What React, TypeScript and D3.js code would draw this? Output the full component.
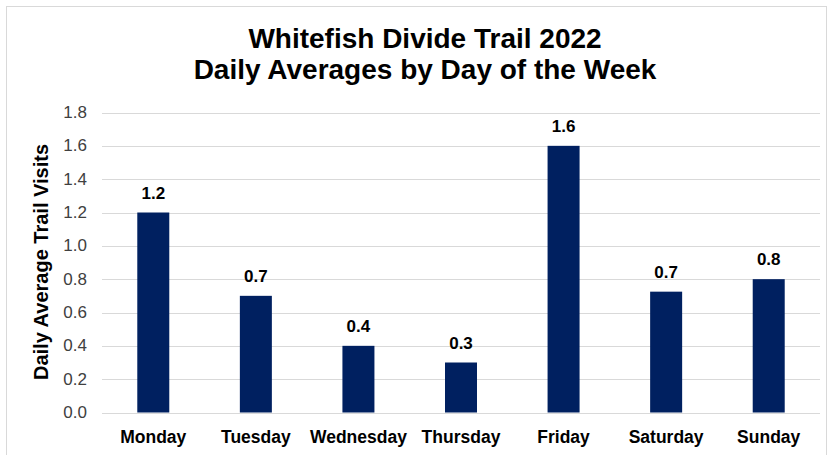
import React from "react";
import * as d3 from "d3";

const days = ["Monday", "Tuesday", "Wednesday", "Thursday", "Friday", "Saturday", "Sunday"];
const visits = [1.2, 0.7, 0.4, 0.3, 1.6, 0.725, 0.8];
const yTicks = [0, 0.2, 0.4, 0.6, 0.8, 1.0, 1.2, 1.4, 1.6, 1.8];
const titleLines = ["Whitefish Divide Trail 2022", "Daily Averages by Day of the Week"];
const yTitle = "Daily Average Trail Visits";

const W = 833;
const H = 455;
const FONT = "Liberation Sans, Arial, Helvetica, sans-serif";

export default function App() {
  const x = d3.scaleBand<string>().domain(days).range([102, 820]).paddingInner(0.688).paddingOuter(0.344);
  const y = d3.scaleLinear().domain([0, 1.8]).range([412.5, 112.5]);

  return (
    <svg width={W} height={H} style={{ position: "absolute", left: 0, top: 0, display: "block", background: "#fff" }} fontFamily={FONT}>
      <rect x={6.5} y={6.5} width={820} height={470} fill="#fff" stroke="#d9d9d9" strokeWidth={1} />
      {titleLines.map((t, i) => (
        <text key={t} x={425} y={48 + i * 31} textAnchor="middle" fontSize={28} fontWeight="bold" fill="#000">
          {t}
        </text>
      ))}
      {yTicks.map((t) => (
        <g key={t}>
          <line x1={102} x2={820} y1={Math.round(y(t)) + 0.5} y2={Math.round(y(t)) + 0.5} stroke="#d9d9d9" strokeWidth={1} />
          <text x={87} y={y(t) + 5.5} textAnchor="end" fontSize={17} fill="#404040">
            {d3.format(".1f")(t)}
          </text>
        </g>
      ))}
      {days.map((d, i) => (
        <g key={d}>
          <rect x={x(d)} y={y(visits[i])} width={x.bandwidth()} height={y(0) - y(visits[i])} fill="#002060" />
          <text x={(x(d) as number) + x.bandwidth() / 2} y={y(visits[i]) - 14} textAnchor="middle" fontSize={17} fontWeight="bold" fill="#000">
            {visits[i].toFixed(1)}
          </text>
          <text x={(x(d) as number) + x.bandwidth() / 2} y={443} textAnchor="middle" fontSize={17.5} fontWeight="bold" fill="#000">
            {d}
          </text>
        </g>
      ))}
      <text transform={`translate(47.5,262) rotate(-90)`} textAnchor="middle" fontSize={20} fontWeight="bold" fill="#000">
        {yTitle}
      </text>
    </svg>
  );
}
